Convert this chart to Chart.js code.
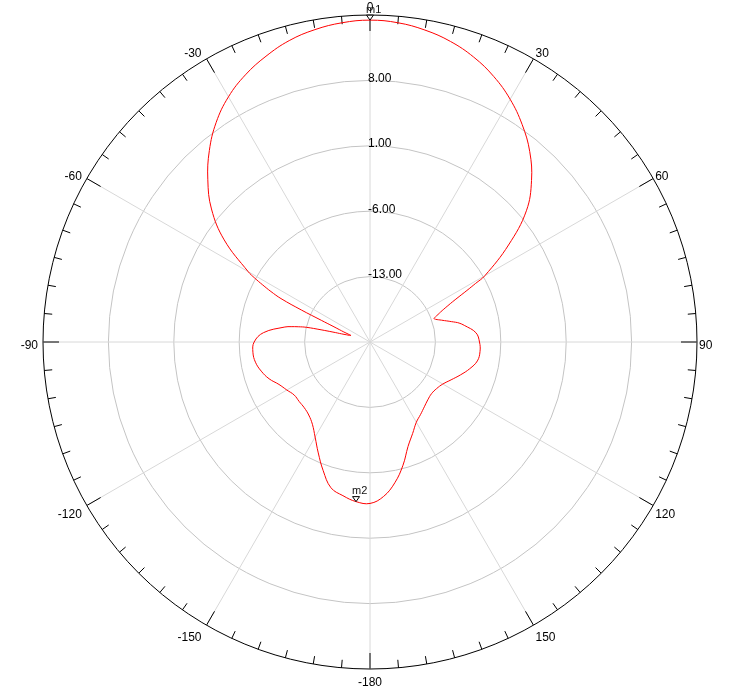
<!DOCTYPE html>
<html>
<head>
<meta charset="utf-8">
<title>Radiation pattern</title>
<script src="https://cdn.jsdelivr.net/npm/chart.js@4.4.1/dist/chart.umd.min.js"></script>
<style>
    html, body { margin: 0; padding: 0; background: #fff; }
    canvas { display: block; }
</style>
</head>
<body>
<canvas id="polarChart" width="732" height="695"></canvas>
<script>
    // pattern samples: angle in degrees (clockwise from top) and gain in dB
    var angles = [0, 5, 10, 15, 20, 25, 30, 35, 40, 45, 50, 55,
        60, 61, 62, 63, 64, 65, 66, 67, 68, 69, 70, 71, 72, 73, 74, 75, 76, 77, 78,
        80, 85, 90, 95, 100, 105, 110, 115, 120, 125, 130, 135, 140, 145, 150,
        155, 160, 165, 170, 175, 180,
        -175, -170, -165, -160, -155, -150, -145, -140, -135, -130, -125, -120,
        -115, -110, -105, -100, -95, -90, -85,
        -80, -79, -78, -77, -76, -75, -74, -73, -72, -71, -70, -69, -68, -67, -66, -65,
        -64, -63, -62, -61, -60, -55, -50, -45, -40, -35, -30, -25, -20, -15, -10, -5];
    var gains = [14.45, 14.3, 13.9, 13.3, 12.45, 11.35, 10.0, 8.4, 6.6, 4.45, 1.85, -1.9,
        -5.8, -7.1, -8.25, -9.3, -10.15, -10.8, -11.35, -11.8, -12.15, -12.5, -12.7, -12.55, -12.3, -12.0, -11.7, -11.35, -11.0, -10.6, -10.25,
        -9.75, -8.62, -8.28, -8.18, -8.33, -8.95, -9.7, -10.42, -11.0, -11.3, -11.4, -11.25, -10.95, -10.55, -10.08,
        -9.2, -8.1, -6.35, -4.7, -3.4, -2.72,
        -2.85, -3.3, -3.85, -5.35, -6.9, -8.25, -9.25, -9.8, -10.05, -10.1, -10.1, -9.72,
        -9.25, -8.5, -7.95, -7.55, -7.42, -7.6, -8.55,
        -10.75, -11.4, -12.15, -13.0, -14.6, -15.9, -16.85, -17.35, -17.7, -17.85, -17.5, -17.0, -16.45, -15.7, -14.3, -11.9,
        -9.4, -8.1, -7.0, -5.9, -4.95, -0.95, 2.15, 4.55, 6.75, 8.7, 10.3, 11.55, 12.55, 13.4, 13.95, 14.3];

    var gainTicks = [-20, -13, -6, 1, 8, 15];
    var angleTicks = [0, 30, 60, 90, 120, 150, -180, -150, -120, -90, -60, -30];
    var markerNames = ['m1', 'm2'];
    var markerAngles = [0, -175];

    // one radar label per degree, the curve only has values where sampled
    var labels = [];
    var curve = [];
    for (var i = 0; i < 360; i++) {
        labels.push(i < 180 ? i : i - 360);
        curve.push(null);
    }
    angles.forEach(function (a, k) {
        curve[(a + 360) % 360] = gains[k];
    });

    var labelFont = '12px "Liberation Sans", Arial, sans-serif';
    var markerFont = '11px "Liberation Sans", Arial, sans-serif';

    var polarDecor = {
        id: 'polarDecor',
        beforeDatasetsDraw: function (chart) {
            var s = chart.scales.r;
            var c = chart.ctx;
            var R = s.drawingArea;
            c.save();
            // ticks round the rim
            c.strokeStyle = '#000';
            c.lineWidth = 1;
            for (var i = 0; i < 360; i += 5) {
                var len = i % 30 === 0 ? 16 : 8;
                var a = s.getPointPosition(i, R);
                var b = s.getPointPosition(i, R - len);
                c.beginPath();
                c.moveTo(a.x, a.y);
                c.lineTo(b.x, b.y);
                c.stroke();
            }
            // angle labels
            c.font = labelFont;
            c.fillStyle = '#000';
            c.textBaseline = 'middle';
            angleTicks.forEach(function (deg) {
                var idx = (deg + 360) % 360;
                var p = s.getPointPosition(idx, R);
                var rad = idx * Math.PI / 180;
                var sn = Math.sin(rad), cs = Math.cos(rad);
                var x = p.x;
                if (sn > 0.01) {
                    c.textAlign = 'left';
                    x += 2;
                } else if (sn < -0.01) {
                    c.textAlign = 'right';
                    x -= 5;
                } else {
                    c.textAlign = 'center';
                }
                c.fillText(String(deg), x, p.y + 3.5 - 10.5 * cs);
            });
            // ring labels on the 0 deg spoke
            c.textAlign = 'left';
            gainTicks.slice(1, -1).forEach(function (v) {
                var p = s.getPointPosition(0, s.getDistanceFromCenterForValue(v));
                c.fillText(v.toFixed(2), p.x - 2, p.y - 2);
            });
            c.restore();
        },
        afterDatasetsDraw: function (chart) {
            var s = chart.scales.r;
            var c = chart.ctx;
            c.save();
            markerAngles.forEach(function (deg, k) {
                var idx = (deg + 360) % 360;
                var p = s.getPointPosition(idx, s.getDistanceFromCenterForValue(curve[idx]));
                c.beginPath();
                c.moveTo(p.x, p.y);
                c.lineTo(p.x - 3.5, p.y - 5);
                c.lineTo(p.x + 3.5, p.y - 5);
                c.closePath();
                c.fillStyle = '#fff';
                c.fill();
                c.strokeStyle = '#000';
                c.lineWidth = 1;
                c.stroke();
                c.font = markerFont;
                c.fillStyle = '#111';
                c.textAlign = 'left';
                c.textBaseline = 'alphabetic';
                c.fillText(markerNames[k], p.x - 4, p.y - 7.5);
            });
            c.restore();
        }
    };

    var ctx = document.getElementById('polarChart').getContext('2d');
    var chart = new Chart(ctx, {
        type: 'radar',
        data: {
            labels: labels,
            datasets: [{
                label: 'Gain',
                data: curve,
                borderColor: '#ff0000',
                borderWidth: 1,
                pointRadius: 0,
                pointHoverRadius: 0,
                fill: false,
                spanGaps: true,
                tension: 0.4
            }]
        },
        options: {
            responsive: false,
            animation: false,
            layout: {
                padding: { left: 43, right: 34, top: 15, bottom: 26 }
            },
            plugins: {
                legend: { display: false },
                tooltip: { enabled: false }
            },
            scales: {
                r: {
                    min: -20,
                    max: 15,
                    ticks: { display: false, stepSize: 7 },
                    pointLabels: { display: false },
                    grid: {
                        circular: true,
                        color: function (c) {
                            return c.tick && c.tick.value === 15 ? '#000' : '#c4c4c4';
                        },
                        lineWidth: 1
                    },
                    angleLines: {
                        color: function (c) {
                            return c.index % 30 === 0 ? '#d8d8d8' : 'rgba(0,0,0,0)';
                        },
                        lineWidth: 1
                    }
                }
            }
        },
        plugins: [polarDecor]
    });
</script>
</body>
</html>
